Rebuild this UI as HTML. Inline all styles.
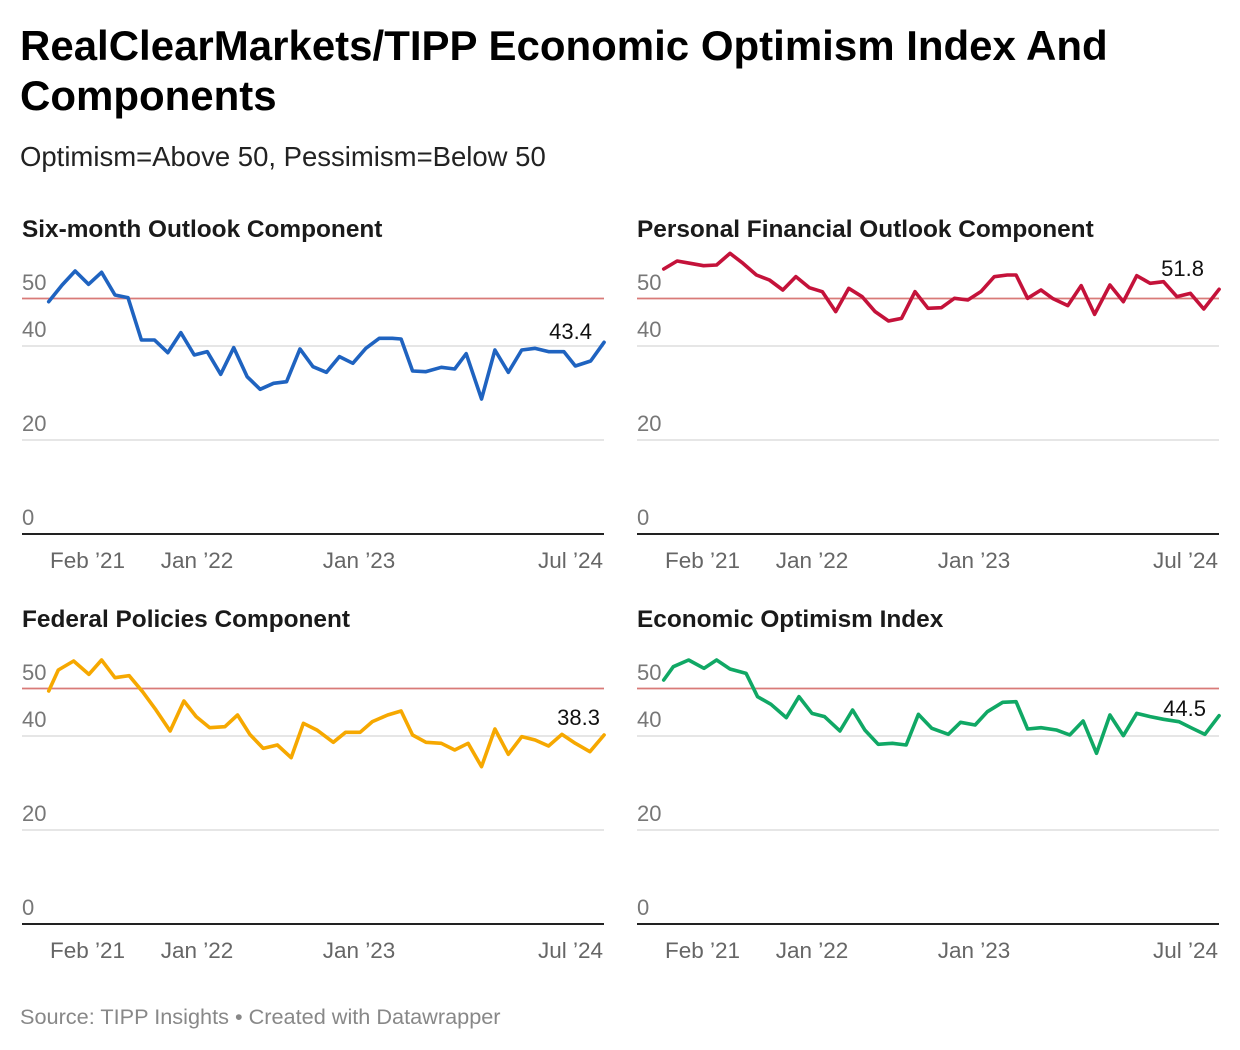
<!DOCTYPE html>
<html><head><meta charset="utf-8"><style>
body{margin:0;background:#fff;width:1240px;height:1050px;overflow:hidden}
svg{display:block}
text{font-family:"Liberation Sans",Arial,sans-serif}
.t{font-size:42px;font-weight:bold;fill:#000}
.st{font-size:27.5px;fill:#222}
.pt{font-size:24.4px;font-weight:bold;fill:#1a1a1a}
.ax{font-size:22px;fill:#777}
.tk{font-size:22.5px;fill:#666}
.vl{font-size:22px;fill:#111;text-anchor:end}
.ln{fill:none;stroke-width:3.6;stroke-linejoin:round;stroke-linecap:round}
</style></head><body>
<svg width="1240" height="1050" viewBox="0 0 1240 1050">
<text class="t" x="20" y="60">RealClearMarkets/TIPP Economic Optimism Index And</text>
<text class="t" x="20" y="110">Components</text>
<text class="st" x="20" y="166">Optimism=Above 50, Pessimism=Below 50</text>

<defs>
<g id="axes1">
<line x1="22" x2="604" y1="346" y2="346" stroke="#ddd" stroke-width="1.5"/>
<line x1="22" x2="604" y1="440" y2="440" stroke="#ddd" stroke-width="1.5"/>
<line x1="22" x2="604" y1="534" y2="534" stroke="#222" stroke-width="2"/>
<line x1="22" x2="604" y1="298.5" y2="298.5" stroke="#d97a78" stroke-width="1.8"/>
<text class="ax" x="22" y="290">50</text>
<text class="ax" x="22" y="337">40</text>
<text class="ax" x="22" y="431">20</text>
<text class="ax" x="22" y="525">0</text>
<text class="tk" x="50" y="568">Feb ’21</text>
<text class="tk" x="197" y="568" text-anchor="middle">Jan ’22</text>
<text class="tk" x="359" y="568" text-anchor="middle">Jan ’23</text>
<text class="tk" x="603" y="568" text-anchor="end">Jul ’24</text>
</g>
</defs>

<use href="#axes1"/>
<use href="#axes1" transform="translate(615,0)"/>
<use href="#axes1" transform="translate(0,390)"/>
<use href="#axes1" transform="translate(615,390)"/>

<text class="pt" x="22" y="237">Six-month Outlook Component</text>
<text class="pt" x="637" y="237">Personal Financial Outlook Component</text>
<text class="pt" x="22" y="627">Federal Policies Component</text>
<text class="pt" x="637" y="627">Economic Optimism Index</text>

<g transform="translate(20,255) scale(0.383,0.3333)">
<polyline class="ln" vector-effect="non-scaling-stroke" stroke="#1f63c0" points="75,140 110,90 144,48 179,88 213,52 248,120 282,128 317,255 351,255 386,293 420,233 455,300 489,290 524,358 558,278 593,365 627,403 662,385 696,380 731,282 765,335 800,352 834,305 869,325 903,280 938,250 972,250 995,252 1025,348 1060,350 1100,337 1135,342 1165,296 1205,432 1240,285 1275,352 1310,285 1345,280 1380,290 1420,290 1450,333 1490,318 1525,262"/>
</g>
<g transform="translate(635,245) scale(0.383,0.3333)">
<polyline class="ln" vector-effect="non-scaling-stroke" stroke="#c4123a" points="75,72 110,48 144,55 179,62 213,60 248,25 282,55 317,90 351,105 386,135 420,95 455,128 489,140 524,200 558,130 593,155 627,200 662,228 696,220 731,140 765,190 800,188 834,160 869,165 903,140 938,95 972,90 995,90 1025,160 1060,135 1090,160 1130,182 1165,122 1200,208 1240,120 1275,170 1310,92 1345,115 1380,110 1415,155 1450,145 1485,192 1525,133"/>
</g>
<g transform="translate(20,645) scale(0.383,0.3333)">
<polyline class="ln" vector-effect="non-scaling-stroke" stroke="#f6a800" points="75,138 100,75 140,48 180,88 213,45 248,98 285,92 320,140 355,195 392,258 428,168 460,215 495,248 535,245 568,210 600,268 635,310 672,300 708,338 740,235 775,255 818,292 850,262 888,262 920,230 960,210 995,198 1025,270 1060,292 1100,295 1135,315 1170,295 1205,365 1240,252 1275,328 1310,275 1345,285 1380,303 1415,268 1450,295 1488,320 1525,270"/>
</g>
<g transform="translate(635,645) scale(0.383,0.3333)">
<polyline class="ln" vector-effect="non-scaling-stroke" stroke="#10a865" points="75,105 100,65 140,45 180,70 213,45 248,72 290,85 320,155 355,178 395,218 428,155 462,205 495,215 535,258 568,195 600,255 635,298 672,295 708,300 740,208 775,250 818,268 850,232 888,240 920,200 960,172 995,170 1025,252 1060,248 1100,255 1135,270 1170,228 1205,325 1240,210 1275,272 1310,205 1345,215 1380,223 1420,230 1455,250 1488,268 1525,212"/>
</g>

<text class="vl" x="592" y="339">43.4</text>
<text class="vl" x="1204" y="276">51.8</text>
<text class="vl" x="600" y="725">38.3</text>
<text class="vl" x="1206" y="716">44.5</text>

<text x="20" y="1024" style="font-size:21.7px;fill:#888">Source: TIPP Insights • Created with Datawrapper</text>
</svg>
</body></html>
